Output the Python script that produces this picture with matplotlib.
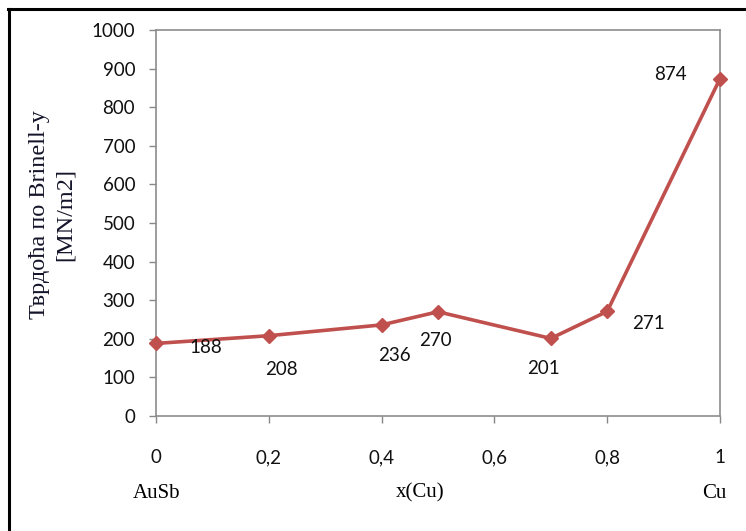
import matplotlib
matplotlib.use("Agg")
import matplotlib.pyplot as plt
from matplotlib.lines import Line2D

# Brinell hardness across the AuSb–Cu composition range
x_cu = [0, 0.2, 0.4, 0.5, 0.7, 0.8, 1.0]
hardness = [188, 208, 236, 270, 201, 271, 874]
x_ticks = [0, 0.2, 0.4, 0.6, 0.8, 1.0]
x_tick_labels = ["0", "0,2", "0,4", "0,6", "0,8", "1"]
y_ticks = list(range(0, 1001, 100))

# label offsets in points (dx, dy) for each data label
label_offsets = [(36, -3), (9, -24), (9, -22), (-2, -21), (-5, -22), (30, -9), (-36, 3)]

W, H = 746, 531
fig = plt.figure(figsize=(W / 100, H / 100), dpi=100)
fig.patch.set_facecolor("white")

ax = fig.add_axes([156 / W, 1 - 416 / H, (720 - 156) / W, (416 - 30) / H])

line_color = "#C0504D"
ax.plot(x_cu, hardness, color=line_color, lw=2.6, marker="D", ms=7,
        mfc=line_color, mec=line_color, zorder=3, clip_on=False)

num_font = "Lato"
num_size = 13.5
for xv, yv, (dx, dy) in zip(x_cu, hardness, label_offsets):
    ax.annotate(str(yv), (xv, yv), xytext=(dx, dy), textcoords="offset points",
                ha="center", va="center", fontsize=num_size, family=num_font,
                color="#111111")

ax.set_xlim(0, 1)
ax.set_ylim(0, 1000)
ax.set_xticks(x_ticks)
ax.set_xticklabels(x_tick_labels, family=num_font, fontsize=num_size, color="#111111")
ax.set_yticks(y_ticks)
ax.set_yticklabels([str(v) for v in y_ticks], family=num_font, fontsize=num_size,
                   color="#111111")
ax.tick_params(axis="x", direction="out", length=5, width=1, color="#888888",
               pad=19)
ax.tick_params(axis="y", direction="out", length=5, width=1, color="#888888",
               pad=10)
for side in ["left", "bottom", "top", "right"]:
    ax.spines[side].set_color("#8c8c8c")
    ax.spines[side].set_linewidth(1.2)

serif = "Liberation Serif"
ax.set_ylabel("Тврдоћа по Brinell-у\n[MN/m2]", family=serif, fontsize=17.5,
              color="#14142a", linespacing=1.3)
ax.yaxis.set_label_coords(-0.143, 0.523)

# composition labels under the axis
fig.text(157 / W, 1 - 493 / H, "AuSb", family=serif, fontsize=15,
         ha="center", va="center")
fig.text(420 / W, 1 - 493 / H, "x(Cu)", family=serif, fontsize=15,
         ha="center", va="center")
fig.text(714 / W, 1 - 493 / H, "Cu", family=serif, fontsize=15,
         ha="center", va="center")

# outer frame (left and top edges)
fig.add_artist(Line2D([9 / W, 9 / W], [0, 1 - 9 / H], transform=fig.transFigure,
                      color="black", lw=2.2))
fig.add_artist(Line2D([8 / W, 1], [1 - 9 / H, 1 - 9 / H], transform=fig.transFigure,
                      color="black", lw=2.2))

fig.savefig("out.png", dpi=100, facecolor="white")
